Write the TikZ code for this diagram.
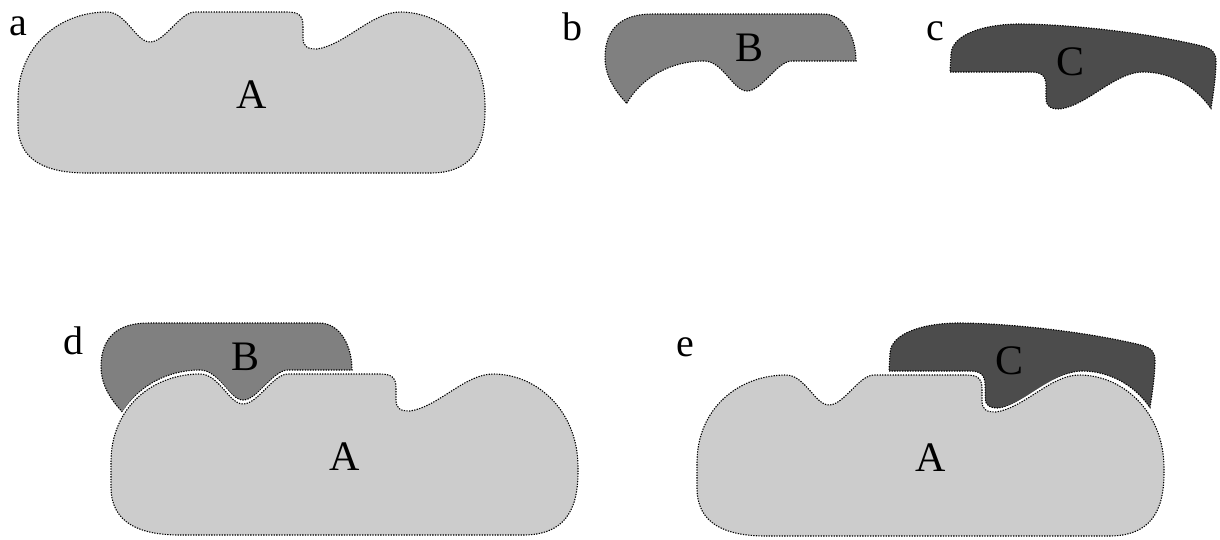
\documentclass[tikz,border=0pt]{standalone}
\usepackage{fontspec}
\setmainfont{Liberation Serif}

\definecolor{shadeA}{gray}{0.8}
\definecolor{shadeB}{gray}{0.5}
\definecolor{shadeC}{gray}{0.3}

% Outline of the large body A (local frame, y grows downwards)
\newcommand{\outlineA}{(87,173) -- (430,173)
  .. controls (470,173) and (485,150) .. (485,110) -- (485,105)
  .. controls (485,50) and (445,12) .. (400,12)
  .. controls (372,12) and (345,45) .. (317,49)
  .. controls (308,49) and (303,47) .. (303,38) -- (303,26)
  .. controls (303,15) and (298,12) .. (287,12) -- (195,12)
  .. controls (180,12) and (165,42) .. (150,42)
  .. controls (136,42) and (126,12) .. (107,12)
  .. controls (60,12) and (18,45) .. (18,100) -- (18,125)
  .. controls (18,160) and (45,173) .. (87,173) -- cycle}

% Piece B: its lower edge follows the upper left contour of A
\newcommand{\outlineB}{(29.7,50.3)
  .. controls (45.4,23.3) and (75,8) .. (107,8)
  .. controls (126,8) and (136,38) .. (150,38)
  .. controls (165,38) and (180,8) .. (195,8) -- (259,8)
  .. controls (259,-15) and (248,-39) .. (226,-39) -- (55,-39)
  .. controls (25,-39) and (8,-25) .. (8,5)
  .. controls (8,20) and (15,35) .. (29.7,50.3) -- cycle}

% Piece C: its lower edge follows the upper right contour of A
\newcommand{\outlineC}{(210,8) -- (290,8)
  .. controls (301,8) and (306,11) .. (306,22) -- (306,34)
  .. controls (306,43) and (311,45) .. (320,45)
  .. controls (348,41) and (375,8) .. (403,8)
  .. controls (430,8) and (455.2,21.7) .. (471,44.5)
  .. controls (474,25) and (476,10) .. (476,-2)
  .. controls (476,-12) and (472,-15) .. (462,-18)
  .. controls (400,-33) and (320,-40) .. (280,-40)
  .. controls (245,-40) and (212,-30) .. (211,-10) -- cycle}

\tikzset{
  dotline/.style={draw=black, line width=1.1pt, dash pattern=on 1.3pt off 1.3pt},
  halo/.style={draw=white, line width=5pt},
  letter/.style={inner sep=0pt, anchor=base, font=\fontsize{42}{42}\selectfont},
  tag/.style={inner sep=0pt, anchor=base west, font=\fontsize{40}{40}\selectfont}
}

\begin{document}
\begin{tikzpicture}[x=1pt, y=-1pt]
  \useasboundingbox (0,0) rectangle (1220,539);

  % a: body A alone
  \begin{scope}
    \draw[halo] \outlineA;
    \fill[shadeA] \outlineA;
    \draw[dotline] \outlineA;
    \node[letter] (labA1) at (252,108) {A};
  \end{scope}
  \node[tag] (tagA) at (9,35) {a};

  % b: piece B alone
  \begin{scope}[shift={(597,53)}]
    \fill[shadeB] \outlineB;
    \draw[dotline] \outlineB;
    \node[letter] (labB1) at (152.5,8.7) {B};
  \end{scope}
  \node[tag] (tagB) at (562,40.7) {b};

  % c: piece C alone
  \begin{scope}[shift={(740,64)}]
    \fill[shadeC] \outlineC;
    \draw[dotline] \outlineC;
    \node[letter] (labC1) at (330,11) {C};
  \end{scope}
  \node[tag] (tagC) at (926,40) {c};

  % d: B resting on A
  \begin{scope}[shift={(93,362)}]
    \fill[shadeB] \outlineB;
    \draw[dotline] \outlineB;
    \node[letter] (labB2) at (152.5,8.7) {B};
    \draw[halo] \outlineA;
    \fill[shadeA] \outlineA;
    \draw[dotline] \outlineA;
    \node[letter] (labA2) at (252,108) {A};
  \end{scope}
  \node[tag] (tagD) at (63,354) {d};

  % e: C resting on A
  \begin{scope}[shift={(679,363)}]
    \fill[shadeC] \outlineC;
    \draw[dotline] \outlineC;
    \node[letter] (labC2) at (330,11) {C};
    \draw[halo] \outlineA;
    \fill[shadeA] \outlineA;
    \draw[dotline] \outlineA;
    \node[letter] (labA3) at (252,108) {A};
  \end{scope}
  \node[tag] (tagE) at (676,356) {e};
\end{tikzpicture}
\end{document}
